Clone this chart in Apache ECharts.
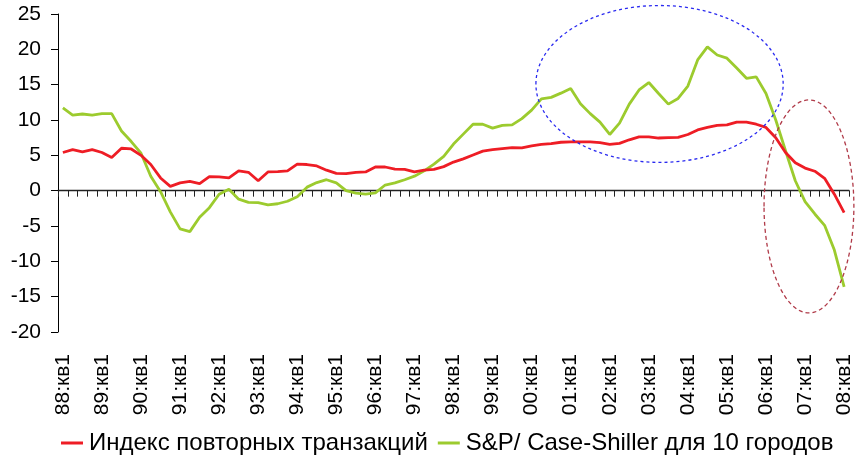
<!DOCTYPE html>
<html><head><meta charset="utf-8">
<script src="https://cdn.jsdelivr.net/npm/echarts@6/dist/echarts.min.js"></script>
<style>html,body{margin:0;padding:0;background:#fff}#c{width:863px;height:462px}</style>
</head><body><div id="c"></div>
<script>
// categories: quarters 88:кв1 ... 08:кв1
var years = ['88','89','90','91','92','93','94','95','96','97','98','99','00','01','02','03','04','05','06','07','08'];
var categories = [];
years.forEach(function (y, k) {
  var n = (k === years.length - 1) ? 1 : 4;
  for (var q = 1; q <= n; q++) categories.push(y + ':кв' + q);
});
var seriesNames = ['Индекс повторных транзакций', 'S&P/ Case-Shiller для 10 городов'];
var repeatSales = [5.4,5.8,5.5,5.8,5.4,4.7,6.0,5.9,5.0,3.7,1.8,0.6,1.1,1.3,1.0,2.0,1.95,1.8,2.8,2.6,1.4,2.65,2.7,2.8,3.75,3.7,3.5,2.9,2.45,2.4,2.6,2.65,3.35,3.35,3.05,3.0,2.65,2.9,3.0,3.4,4.05,4.5,5.05,5.6,5.8,5.95,6.1,6.05,6.35,6.55,6.65,6.85,6.9,6.9,6.9,6.8,6.55,6.7,7.2,7.6,7.6,7.45,7.5,7.55,7.95,8.6,8.95,9.25,9.3,9.7,9.7,9.4,8.95,7.5,5.4,3.95,3.2,2.75,1.75,-0.5,-3.1];
var caseShiller = [11.7,10.7,10.85,10.7,10.9,10.9,8.45,6.95,5.3,2.05,-0.15,-3.0,-5.4,-5.8,-3.75,-2.4,-0.5,0.2,-1.2,-1.65,-1.7,-2.0,-1.85,-1.5,-0.85,0.5,1.15,1.55,1.1,0.0,-0.35,-0.5,-0.3,0.8,1.1,1.55,2.05,2.8,3.75,4.85,6.6,8.0,9.4,9.4,8.85,9.25,9.3,10.2,11.4,13.0,13.2,13.8,14.45,12.3,10.9,9.7,7.95,9.55,12.25,14.25,15.3,13.75,12.25,13.05,14.8,18.5,20.35,19.2,18.75,17.35,15.9,16.1,13.75,10.0,5.65,1.4,-1.55,-3.3,-4.9,-8.4,-13.6];
var yTicks = {min: -20, max: 25, interval: 5};
// annotation ellipses in data units: [centre index, centre value, radius in categories, radius in value]
var highlightBoom = [61.1, 15.1, 12.66, 11.1];
var highlightFall = [76.4, -2.23, 4.6, 15.07];

var font = '"Liberation Sans", Arial, sans-serif';
var chart = echarts.init(document.getElementById('c'), null, {renderer: 'canvas'});
chart.setOption({
  animation: false,
  backgroundColor: '#fff',
  grid: {left: 58, right: 14, top: 14, bottom: 130, containLabel: false},
  legend: {
    left: 61, top: 431, padding: 0, itemGap: 10, itemWidth: 22, itemHeight: 3,
    icon: 'rect',
    textStyle: {fontFamily: font, fontSize: 24, color: '#000', padding: [0, 0, 0, 1]},
    data: seriesNames
  },
  xAxis: [{
    type: 'category', data: categories, boundaryGap: true,
    axisLine: {onZero: true, lineStyle: {color: '#222', width: 1.3}},
    axisTick: {show: true, interval: 0, length: 6, inside: false, lineStyle: {color: '#222', width: 1}},
    axisLabel: {show: false}, splitLine: {show: false}
  }, {
    type: 'category', data: categories, boundaryGap: true, position: 'bottom',
    axisLine: {show: false, onZero: false}, axisTick: {show: false},
    axisLabel: {show: true, interval: 3, rotate: 90, margin: 22, fontFamily: font, fontSize: 21, color: '#000'},
    splitLine: {show: false}
  }],
  yAxis: {
    type: 'value', min: yTicks.min, max: yTicks.max, interval: yTicks.interval,
    axisLine: {show: true, onZero: false, lineStyle: {color: '#000', width: 1}},
    axisTick: {show: true, length: 7, lineStyle: {color: '#000'}},
    axisLabel: {margin: 17, fontFamily: font, fontSize: 21, color: '#000'},
    splitLine: {show: false}
  },
  series: [{
    name: seriesNames[0], type: 'line', xAxisIndex: 0, data: repeatSales,
    symbol: 'none', lineStyle: {color: '#ee1d25', width: 2.8}, itemStyle: {color: '#ee1d25'}, z: 3
  }, {
    name: seriesNames[1], type: 'line', xAxisIndex: 0, data: caseShiller,
    symbol: 'none', lineStyle: {color: '#9ccb2e', width: 2.8}, itemStyle: {color: '#9ccb2e'}, z: 2
  }]
});

function toPx(e) {
  var a = chart.convertToPixel({xAxisIndex: 0}, 0);
  var b = chart.convertToPixel({xAxisIndex: 0}, categories.length - 1);
  var step = (b - a) / (categories.length - 1);
  var y0 = chart.convertToPixel({yAxisIndex: 0}, 0);
  var y1 = chart.convertToPixel({yAxisIndex: 0}, 10);
  var vs = (y0 - y1) / 10;
  return {cx: a + e[0] * step, cy: y0 - e[1] * vs, rx: e[2] * step, ry: e[3] * vs};
}
chart.setOption({
  graphic: [{
    type: 'ellipse', shape: toPx(highlightBoom), silent: true, z: 10,
    style: {fill: 'none', stroke: '#2a2af0', lineWidth: 1.3, lineDash: [3, 3]}
  }, {
    type: 'ellipse', shape: toPx(highlightFall), silent: true, z: 10,
    style: {fill: 'none', stroke: '#b03a48', lineWidth: 1.3, lineDash: [4, 3]}
  }]
});
</script></body></html>
